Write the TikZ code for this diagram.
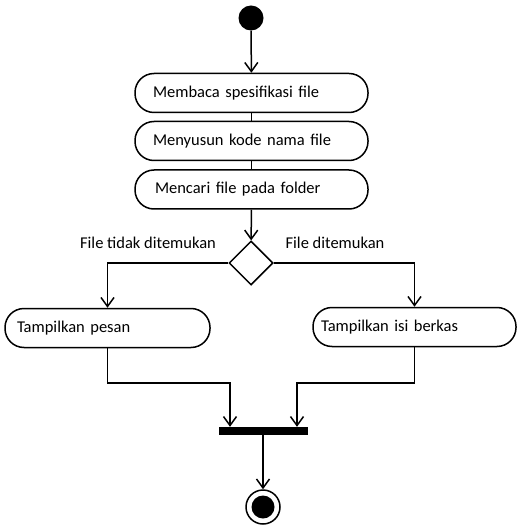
\documentclass[tikz,border=0pt]{standalone}
\usepackage{fontspec}
\setmainfont{Carlito}
\usetikzlibrary{shapes.geometric,arrows.meta}

\tikzset{
    actbox/.style={draw, rounded corners=19pt, line width=1.5pt, minimum height=39pt,
        inner ysep=0pt, align=left, font=\fontsize{16.5}{18}\selectfont},
    flow/.style={line width=1.5pt, -{Straight Barb[length=9pt,width=13pt,line width=1.5pt]}},
    link/.style={line width=1.5pt},
    lbl/.style={font=\fontsize{16.5}{18}\selectfont}
}

\begin{document}
\begin{tikzpicture}[x=1pt,y=-1pt]
    \useasboundingbox (0,0) rectangle (516,526);

    % start
    \node[circle, fill=black, minimum size=25pt, inner sep=0pt] (start) at (251,18) {};

    % activities
    \node[actbox, inner xsep=18pt, text width=197pt] (baca) at (251.5,93) {Membaca spesifikasi file};
    \node[actbox, inner xsep=18pt, text width=197pt] (susun) at (251.5,141) {Menyusun kode nama file};
    \node[actbox, inner xsep=20pt, text width=193pt] (cari) at (251.5,189.5) {Mencari file pada folder};

    % decision
    \node[diamond, draw, line width=1.5pt, minimum width=44pt, minimum height=44pt, inner sep=0pt] (cek) at (251,263) {};
    \node[lbl] (tidak) at (148,243) {File tidak ditemukan};
    \node[lbl] (ada) at (335,243) {File ditemukan};

    \node[actbox, inner xsep=12pt, text width=181pt] (pesan) at (107.5,328) {Tampilkan pesan};
    \node[actbox, inner xsep=8pt, text width=187pt] (isi) at (414.5,327) {Tampilkan isi berkas};

    % join bar and end
    \node[rectangle, fill=black, minimum width=89pt, minimum height=8pt, inner sep=0pt] (bar) at (263.5,431) {};
    \node[circle, draw, line width=1.5pt, minimum size=34pt, inner sep=0pt] (end) at (263,507) {};
    \node[circle, fill=black, minimum size=23pt, inner sep=0pt] (endin) at (end) {};

    \coordinate (joinL) at (230,383);
    \coordinate (joinR) at (297,383);

    % flows
    \draw[flow] (start) -- (baca);
    \draw[link] (baca) -- (susun);
    \draw[link] (susun) -- (cari);
    \draw[flow] (cari) -- (cek);
    \draw[flow] (cek.west) -| (pesan.north);
    \draw[flow] (cek.east) -| (isi.north);
    \draw[flow] (pesan.south) |- (joinL) -- (joinL |- bar.north);
    \draw[flow] (isi.south) |- (joinR) -- (joinR |- bar.north);
    \draw[flow] (bar.south -| end.north) -- (end);
\end{tikzpicture}
\end{document}
